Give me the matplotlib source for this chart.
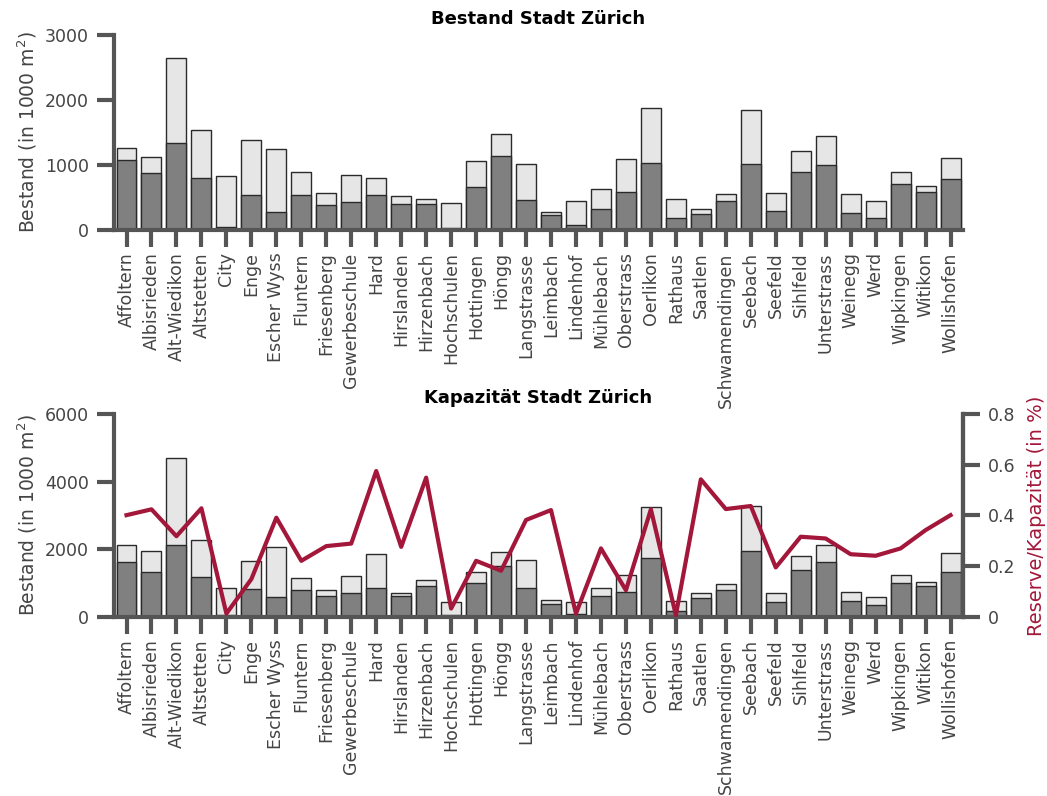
import matplotlib.pyplot as plt
import numpy as np
from matplotlib.ticker import FormatStrFormatter

plt.rcParams['font.family'] = 'DejaVu Sans'

quartiere = ['Affoltern', 'Albisrieden', 'Alt-Wiedikon', 'Altstetten', 'City', 'Enge',
             'Escher Wyss', 'Fluntern', 'Friesenberg', 'Gewerbeschule', 'Hard',
             'Hirslanden', 'Hirzenbach', 'Hochschulen', 'Hottingen', 'Höngg',
             'Langstrasse', 'Leimbach', 'Lindenhof', 'Mühlebach', 'Oberstrass',
             'Oerlikon', 'Rathaus', 'Saatlen', 'Schwamendingen', 'Seebach', 'Seefeld',
             'Sihlfeld', 'Unterstrass', 'Weinegg', 'Werd', 'Wipkingen', 'Witikon',
             'Wollishofen']

# Bestand (in 1000 m2): total and occupied part
bestand_total = [1269, 1130, 2645, 1536, 837, 1392, 1253, 899, 570, 853, 796,
                 519, 483, 421, 1063, 1479, 1022, 282, 442, 627, 1089, 1870, 473,
                 324, 555, 1849, 575, 1222, 1453, 560, 447, 899, 673, 1115]
bestand_teil = [1079, 873, 1346, 806, 41, 544, 272, 544, 385, 437, 534,
                401, 401, 36, 657, 1145, 467, 226, 72, 329, 591, 1032, 180,
                252, 452, 1017, 298, 889, 1007, 267, 190, 704, 586, 781]

# Kapazität (in 1000 m2): total and occupied part
kap_total = [2132, 1954, 4707, 2260, 859, 1638, 2063, 1155, 789, 1204, 1865,
             720, 1086, 444, 1313, 1905, 1668, 493, 444, 859, 1224, 3237, 474,
             711, 967, 3286, 711, 1796, 2112, 740, 592, 1234, 1026, 1875]
kap_teil = [1628, 1332, 2122, 1184, 50, 829, 592, 809, 612, 701, 868,
            612, 908, 50, 997, 1510, 868, 395, 79, 612, 740, 1747, 188,
            572, 799, 1934, 454, 1372, 1609, 464, 355, 1007, 908, 1313]

# Reserve/Kapazität
reserve = [0.401, 0.424, 0.318, 0.428, 0.013, 0.149, 0.391, 0.221, 0.279, 0.289,
           0.575, 0.276, 0.549, 0.033, 0.221, 0.182, 0.382, 0.421, 0.013, 0.270,
           0.105, 0.424, 0.007, 0.542, 0.425, 0.437, 0.195, 0.316, 0.309, 0.247,
           0.241, 0.270, 0.342, 0.401]

achse = '#555555'
text_grau = '#444444'
rot = '#a3173a'
x = np.arange(len(quartiere))

fig = plt.figure(figsize=(10.47, 7.96), dpi=100)
ax1 = fig.add_axes([0.1089, 0.711, 0.8109, 0.245])
ax2 = fig.add_axes([0.1089, 0.225, 0.8109, 0.255])


def style(ax, sides):
    for s in ['left', 'right', 'top', 'bottom']:
        ax.spines[s].set_visible(s in sides)
        ax.spines[s].set_color(achse)
        ax.spines[s].set_linewidth(3)
    ax.tick_params(axis='both', colors=achse, width=3, labelsize=12.5,
                   labelcolor=text_grau)
    ax.tick_params(axis='y', length=12, pad=6)
    ax.tick_params(axis='x', length=12, pad=4)


def balken(ax, total, teil, titel, ymax, yticks):
    ax.bar(x, total, width=0.8, color='#e6e6e6', edgecolor='#2a2a2a', linewidth=1)
    ax.bar(x, teil, width=0.8, color='#808080', edgecolor='#2a2a2a', linewidth=1)
    ax.set_xlim(-0.5, len(x) - 0.5)
    ax.set_ylim(0, ymax)
    ax.set_yticks(yticks)
    ax.set_xticks(x)
    ax.set_xticklabels(quartiere, rotation=90)
    ax.set_ylabel('Bestand (in 1000 m$^2$)', fontsize=13.5, color=text_grau)
    ax.set_title(titel, fontsize=13, fontweight='bold', pad=8)


balken(ax1, bestand_total, bestand_teil, 'Bestand Stadt Zürich', 3000,
       [0, 1000, 2000, 3000])
style(ax1, ['left', 'bottom'])

balken(ax2, kap_total, kap_teil, 'Kapazität Stadt Zürich', 6000,
       [0, 2000, 4000, 6000])
style(ax2, ['left', 'bottom', 'right'])

ax3 = ax2.twinx()
ax3.plot(x, reserve, color=rot, linewidth=3)
ax3.set_ylim(0, 0.8)
ax3.set_yticks([0, 0.2, 0.4, 0.6, 0.8])
ax3.yaxis.set_major_formatter(FormatStrFormatter('%g'))
style(ax3, ['right'])
ax3.set_ylabel('Reserve/Kapazität (in %)', fontsize=14, color=rot, labelpad=8)

fig.savefig('out.png', dpi=100)
